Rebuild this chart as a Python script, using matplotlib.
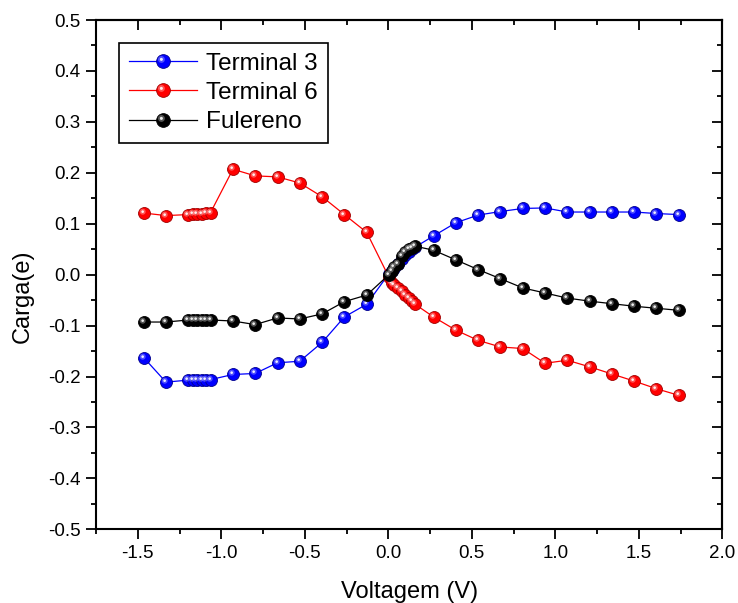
import numpy as np
import matplotlib
matplotlib.use('Agg')
import matplotlib.pyplot as plt
from matplotlib.markers import MarkerStyle
from matplotlib.transforms import Affine2D
from matplotlib.ticker import MultipleLocator, FormatStrFormatter

plt.rcParams['font.family'] = ['Liberation Sans', 'DejaVu Sans']
plt.rcParams['axes.unicode_minus'] = False

# voltage points (V)
voltagem = [-1.464, -1.331, -1.197, -1.170, -1.144, -1.117, -1.091, -1.064,
            -0.930, -0.797, -0.663, -0.530, -0.396, -0.263, -0.129,
            0.004, 0.020, 0.037, 0.060, 0.082, 0.102, 0.122, 0.142, 0.160,
            0.271, 0.405, 0.538, 0.672, 0.805, 0.939, 1.072, 1.206,
            1.339, 1.473, 1.606, 1.740]

terminal3 = [-0.163, -0.211, -0.207, -0.207, -0.207, -0.207, -0.207, -0.206,
             -0.196, -0.194, -0.173, -0.170, -0.133, -0.083, -0.058,
             0.002, 0.008, 0.014, 0.020, 0.030, 0.038, 0.045, 0.050, 0.054,
             0.076, 0.102, 0.117, 0.124, 0.130, 0.131, 0.123, 0.123,
             0.123, 0.123, 0.120, 0.118]

terminal6 = [0.121, 0.116, 0.118, 0.119, 0.120, 0.120, 0.121, 0.122,
             0.207, 0.194, 0.192, 0.180, 0.153, 0.118, 0.083,
             -0.005, -0.016, -0.021, -0.026, -0.032, -0.039, -0.045, -0.052, -0.058,
             -0.083, -0.109, -0.129, -0.142, -0.145, -0.174, -0.168, -0.181,
             -0.195, -0.209, -0.224, -0.237]

fulereno = [-0.093, -0.093, -0.089, -0.089, -0.089, -0.089, -0.089, -0.089,
            -0.091, -0.098, -0.085, -0.087, -0.077, -0.053, -0.040,
            0.000, 0.007, 0.015, 0.020, 0.036, 0.044, 0.050, 0.053, 0.056,
            0.048, 0.029, 0.010, -0.008, -0.026, -0.036, -0.046, -0.052,
            -0.057, -0.062, -0.066, -0.070]

labels = ['Terminal 3', 'Terminal 6', 'Fulereno']

fig = plt.figure(figsize=(7.38, 6.03), dpi=100)
ax = fig.add_axes([0.1301, 0.1222, 0.8486, 0.8446])


def sphere(y, color, edge, light, label):
    ln, = ax.plot(voltagem, y, color=color, lw=0.9, marker='o', ms=8.6,
                  mfc=color, mec=edge, mew=0.6, label=label, zorder=3)
    hl = MarkerStyle('o', transform=Affine2D().translate(-0.3, 0.3))
    h1, = ax.plot(voltagem, y, ls='none', marker=hl, ms=4.3, mfc=light,
                  mec='none', alpha=0.55, zorder=3)
    hs = MarkerStyle('o', transform=Affine2D().translate(-0.7, 0.7))
    h2, = ax.plot(voltagem, y, ls='none', marker=hs, ms=1.9, mfc='white',
                  mec='none', alpha=0.9, zorder=3)
    return (ln, h1, h2)


hb = sphere(terminal3, '#0000ff', '#00008c', '#9090ff', labels[0])
hr = sphere(terminal6, '#ff0000', '#a00000', '#ff9a9a', labels[1])
hk = sphere(fulereno, '#000000', '#000000', '#9a9a9a', labels[2])

ax.set_xlim(-1.75, 2.0)
ax.set_ylim(-0.5, 0.5)
ax.xaxis.set_major_locator(MultipleLocator(0.5))
ax.xaxis.set_minor_locator(MultipleLocator(0.25))
ax.yaxis.set_major_locator(MultipleLocator(0.1))
ax.yaxis.set_minor_locator(MultipleLocator(0.05))
ax.xaxis.set_major_formatter(FormatStrFormatter('%.1f'))
ax.yaxis.set_major_formatter(FormatStrFormatter('%.1f'))
ax.tick_params(which='major', direction='out', length=7, width=1.3,
               labelsize=13.5, pad=4)
ax.tick_params(which='minor', direction='out', length=3.8, width=1.3)
for s in ax.spines.values():
    s.set_linewidth(1.5)

top = ax.secondary_xaxis('top')
top.xaxis.set_major_locator(MultipleLocator(0.5))
top.xaxis.set_minor_locator(MultipleLocator(0.25))
top.tick_params(which='major', direction='in', length=7, width=1.3, labeltop=False)
top.tick_params(which='minor', direction='in', length=3.8, width=1.3)
top.spines['top'].set_linewidth(1.5)
right = ax.secondary_yaxis('right')
right.yaxis.set_major_locator(MultipleLocator(0.1))
right.yaxis.set_minor_locator(MultipleLocator(0.05))
right.tick_params(which='major', direction='in', length=7, width=1.3, labelright=False)
right.tick_params(which='minor', direction='in', length=3.8, width=1.3)
right.spines['right'].set_linewidth(1.5)

ax.set_xlabel('Voltagem (V)', fontsize=17, labelpad=14)
ax.set_ylabel('Carga(e)', fontsize=17)
ax.yaxis.set_label_coords(-0.1, 0.458)

leg = ax.legend([hb, hr, hk], labels, loc='upper left',
                bbox_to_anchor=(0.0367, 0.955), borderaxespad=0,
                numpoints=1, fontsize=17.5, handlelength=2.8,
                handletextpad=0.4, labelspacing=0.3, borderpad=0.4,
                markerscale=1.15, fancybox=False, framealpha=1)
leg.get_frame().set_edgecolor('black')
leg.get_frame().set_linewidth(1.2)

fig.savefig('out.png', dpi=100)
